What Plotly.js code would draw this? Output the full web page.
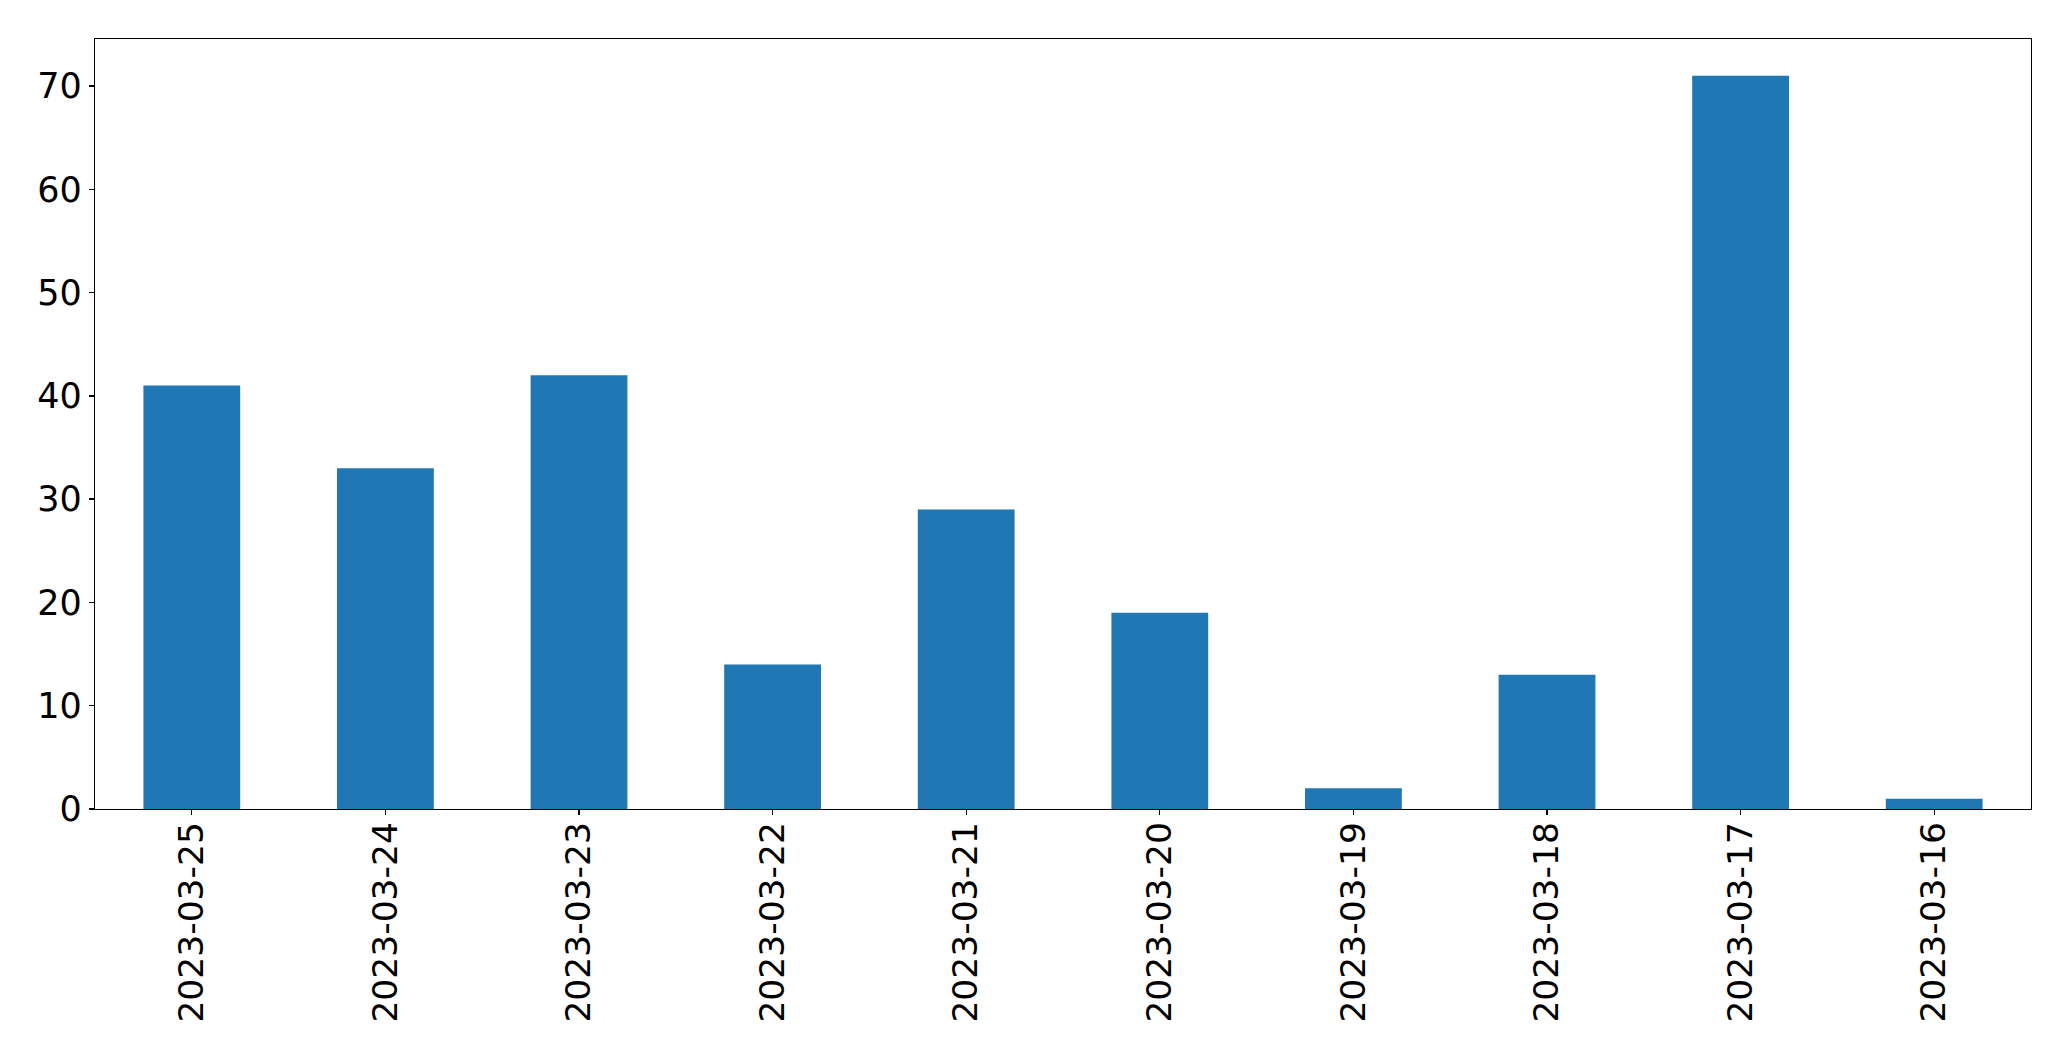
<!DOCTYPE html>
<html>
<head>
<meta charset="utf-8">
<script src="https://cdn.plot.ly/plotly-3.0.1.min.js"></script>
<style>html,body{margin:0;padding:0;background:#fff;}#chart{width:2071px;height:1061px;}</style>
</head>
<body>
<div id="chart"></div>
<script>
const dates = ["2023-03-25","2023-03-24","2023-03-23","2023-03-22","2023-03-21","2023-03-20","2023-03-19","2023-03-18","2023-03-17","2023-03-16"];
const counts = [41, 33, 42, 14, 29, 19, 2, 13, 71, 1];
const yTicks = [0, 10, 20, 30, 40, 50, 60, 70];

const trace = {
  type: 'bar',
  x: dates,
  y: counts,
  width: 0.5,
  marker: {color: '#1f77b4', line: {width: 0}},
  hoverinfo: 'skip'
};

const font = {family: 'DejaVu Sans, sans-serif', size: 35, color: '#000'};
const xfont = {family: 'DejaVu Sans, sans-serif', size: 34.5, color: '#000'};

const layout = {
  width: 2071,
  height: 1061,
  margin: {l: 95, r: 40, t: 39, b: 252, pad: 0},
  paper_bgcolor: '#fff',
  plot_bgcolor: '#fff',
  showlegend: false,
  font: font,
  xaxis: {
    type: 'category',
    categoryorder: 'array',
    categoryarray: dates,
    range: [-0.5, dates.length - 0.5],
    tickangle: -90,
    ticks: 'outside',
    ticklen: 5,
    tickwidth: 1.3,
    tickcolor: '#000',
    ticklabelstandoff: -7,
    showline: true,
    linecolor: '#000',
    linewidth: 1.3,
    mirror: true,
    showgrid: false,
    zeroline: false,
    tickfont: xfont,
    automargin: false
  },
  yaxis: {
    range: [0, 74.55],
    tickmode: 'array',
    tickvals: yTicks,
    ticktext: yTicks.map(String),
    ticks: 'outside',
    ticklen: 5,
    tickwidth: 1.3,
    tickcolor: '#000',
    showline: true,
    linecolor: '#000',
    linewidth: 1.3,
    mirror: true,
    showgrid: false,
    zeroline: false,
    tickfont: font,
    automargin: false
  }
};

Plotly.newPlot('chart', [trace], layout, {displayModeBar: false, staticPlot: true});
</script>
</body>
</html>
